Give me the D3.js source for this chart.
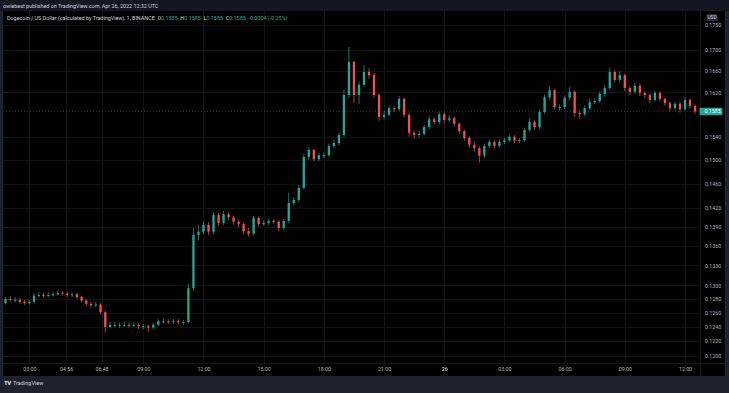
<!DOCTYPE html>
<html>
<head>
<meta charset="utf-8">
<script src="https://cdn.jsdelivr.net/npm/d3@7"></script>
<style>
  html, body { margin: 0; padding: 0; background: #1e222d; }
  svg { display: block; font-family: Roboto, "Open Sans", sans-serif; }
</style>
</head>
<body>
<svg id="chart" width="729" height="393"></svg>
<script>
// 15-minute bars, Apr 25 01:45 UTC onward
const barStart = Date.UTC(2022, 3, 25, 1, 45);
const barMinutes = 15;
const firstOpen = 0.1274;

const closes = [
  0.1280,0.1279,0.1279,0.1276,0.1274,0.1276,0.1285,0.1286,0.1285,0.1286,
  0.1287,0.1289,0.1288,0.1286,0.1287,0.1283,0.1278,0.1273,0.1271,0.1272,
  0.1261,0.1240,0.1243,0.1243,0.1243,0.1243,0.1243,0.1243,0.1241,0.1241,
  0.1239,0.1243,0.1248,0.1248,0.1247,0.1248,0.1247,0.1247,0.1296,0.1377,
  0.1382,0.1393,0.1382,0.1409,0.1396,0.1410,0.1405,0.1398,0.1394,0.1383,
  0.1379,0.1404,0.1394,0.1396,0.1399,0.1398,0.1388,0.1399,0.1428,0.1433,
  0.1453,0.1505,0.1517,0.1501,0.1508,0.1508,0.1524,0.1529,0.1543,0.1615,
  0.1677,0.1615,0.1634,0.1658,0.1652,0.1615,0.1575,0.1579,0.1591,0.1589,
  0.1608,0.1579,0.1547,0.1543,0.1545,0.1557,0.1571,0.1566,0.1580,0.1570,
  0.1573,0.1563,0.1550,0.1538,0.1526,0.1520,0.1507,0.1524,0.1531,0.1524,
  0.1531,0.1534,0.1540,0.1533,0.1534,0.1552,0.1566,0.1557,0.1584,0.1611,
  0.1624,0.1593,0.1593,0.1610,0.1621,0.1582,0.1580,0.1591,0.1602,0.1604,
  0.1617,0.1628,0.1658,0.1643,0.1652,0.1628,0.1621,0.1632,0.1619,0.1615,
  0.1606,0.1619,0.1608,0.1600,0.1591,0.1599,0.1589,0.1606,0.1595,0.1585
];

const highs = [
  0.1283,0.1284,0.1283,0.1281,0.1279,0.1279,0.1288,0.1290,0.1289,0.1290,
  0.1290,0.1293,0.1292,0.1291,0.1290,0.1289,0.1285,0.1280,0.1276,0.1276,
  0.1274,0.1263,0.1247,0.1247,0.1246,0.1247,0.1246,0.1247,0.1245,0.1244,
  0.1243,0.1246,0.1251,0.1252,0.1251,0.1251,0.1251,0.1250,0.1302,0.1388,
  0.1393,0.1399,0.1397,0.1413,0.1412,0.1415,0.1413,0.1408,0.1401,0.1397,
  0.1388,0.1407,0.1406,0.1400,0.1402,0.1402,0.1400,0.1402,0.1445,0.1438,
  0.1458,0.1510,0.1522,0.1519,0.1512,0.1513,0.1528,0.1535,0.1547,0.1625,
  0.1706,0.1680,0.1640,0.1671,0.1665,0.1656,0.1618,0.1586,0.1596,0.1595,
  0.1613,0.1611,0.1582,0.1551,0.1550,0.1561,0.1576,0.1575,0.1585,0.1583,
  0.1578,0.1576,0.1565,0.1553,0.1541,0.1530,0.1523,0.1528,0.1535,0.1534,
  0.1535,0.1538,0.1544,0.1543,0.1538,0.1556,0.1572,0.1569,0.1589,0.1616,
  0.1632,0.1627,0.1598,0.1614,0.1630,0.1624,0.1587,0.1596,0.1607,0.1609,
  0.1622,0.1633,0.1666,0.1662,0.1660,0.1655,0.1632,0.1637,0.1636,0.1622,
  0.1618,0.1623,0.1621,0.1611,0.1603,0.1603,0.1602,0.1611,0.1609,0.1598
];

const lows = [
  0.1272,0.1276,0.1275,0.1273,0.1271,0.1272,0.1274,0.1283,0.1282,0.1283,
  0.1284,0.1285,0.1285,0.1283,0.1283,0.1280,0.1275,0.1270,0.1268,0.1268,
  0.1258,0.1232,0.1238,0.1239,0.1239,0.1240,0.1239,0.1240,0.1237,0.1237,
  0.1233,0.1237,0.1241,0.1245,0.1244,0.1244,0.1244,0.1243,0.1245,0.1292,
  0.1368,0.1378,0.1377,0.1378,0.1391,0.1393,0.1400,0.1393,0.1389,0.1378,
  0.1374,0.1377,0.1390,0.1391,0.1393,0.1394,0.1383,0.1385,0.1396,0.1424,
  0.1429,0.1450,0.1500,0.1497,0.1498,0.1503,0.1505,0.1520,0.1525,0.1540,
  0.1610,0.1600,0.1598,0.1630,0.1645,0.1610,0.1568,0.1570,0.1576,0.1584,
  0.1586,0.1575,0.1540,0.1537,0.1539,0.1542,0.1553,0.1561,0.1562,0.1563,
  0.1566,0.1558,0.1545,0.1533,0.1521,0.1514,0.1495,0.1503,0.1520,0.1519,
  0.1521,0.1527,0.1530,0.1529,0.1529,0.1531,0.1549,0.1551,0.1553,0.1580,
  0.1606,0.1588,0.1586,0.1589,0.1606,0.1575,0.1572,0.1577,0.1588,0.1598,
  0.1600,0.1612,0.1624,0.1638,0.1639,0.1622,0.1615,0.1617,0.1613,0.1609,
  0.1600,0.1603,0.1603,0.1595,0.1585,0.1587,0.1583,0.1586,0.1590,0.1581
];

const priceTicks = [0.1200,0.1220,0.1240,0.1260,0.1280,0.1300,0.1330,0.1360,0.1390,
                    0.1420,0.1460,0.1500,0.1540,0.1620,0.1660,0.1700,0.1750];
const timeTicks = ["2022-04-25T03:00Z","2022-04-25T04:56Z","2022-04-25T06:48Z","2022-04-25T09:00Z",
                   "2022-04-25T12:00Z","2022-04-25T15:00Z","2022-04-25T18:00Z","2022-04-25T21:00Z",
                   "2022-04-26T00:00Z","2022-04-26T03:00Z","2022-04-26T06:00Z","2022-04-26T09:00Z",
                   "2022-04-26T12:00Z"];
const timeLabels = ["03:00","04:56","06:48","09:00","12:00","15:00","18:00","21:00",
                    "26","03:00","06:00","09:00","12:00"];
const lastPrice = 0.1585;

const up = "#26a69a", down = "#ef5350";
const bars = closes.map((c, i) => ({
  t: new Date(barStart + i * barMinutes * 60000),
  o: i === 0 ? firstOpen : closes[i - 1],
  h: highs[i], l: lows[i], c
}));

const svg = d3.select("#chart");
const plot = { left: 3, right: 700, top: 11, bottom: 363 };

// frame pieces
svg.append("rect").attr("width", 729).attr("height", 11).attr("fill", "#131722");
svg.append("rect").attr("x", 3).attr("y", 11).attr("width", 722).attr("height", 365).attr("fill", "#000");

// scales (TradingView squeezes the early hours a bit, so the time scale is piecewise)
const x = d3.scaleUtc()
  .domain([new Date("2022-04-25T03:00Z"), new Date("2022-04-25T09:00Z"), new Date("2022-04-26T12:00Z")])
  .range([29.3, 143.3, 685]);
const y = d3.scaleLog().domain([0.12, 0.17]).range([355.7, 50]);

// grid, faint like the reference
const grid = svg.append("g").attr("stroke", "#111318").attr("stroke-width", 1);
grid.selectAll(".hg").data(priceTicks).join("line")
  .attr("x1", plot.left).attr("x2", plot.right)
  .attr("y1", d => Math.round(y(d)) + 0.5).attr("y2", d => Math.round(y(d)) + 0.5);
grid.selectAll(".vg").data(timeTicks).join("line")
  .attr("x1", d => Math.round(x(new Date(d))) + 0.5).attr("x2", d => Math.round(x(new Date(d))) + 0.5)
  .attr("y1", plot.top).attr("y2", plot.bottom);

// last price line
svg.append("line")
  .attr("x1", plot.left).attr("x2", plot.right)
  .attr("y1", y(lastPrice)).attr("y2", y(lastPrice))
  .attr("stroke", up).attr("stroke-opacity", 0.35).attr("stroke-dasharray", "1,2");

// candles
const cw = 2.3;
const candle = svg.append("g").selectAll("g").data(bars).join("g")
  .attr("fill", d => d.c >= d.o ? up : down)
  .attr("stroke", d => d.c >= d.o ? up : down);
candle.append("line")
  .attr("x1", d => x(d.t)).attr("x2", d => x(d.t))
  .attr("y1", d => y(d.h)).attr("y2", d => y(d.l))
  .attr("stroke-width", 0.7);
candle.append("rect")
  .attr("stroke", "none")
  .attr("x", d => x(d.t) - cw / 2).attr("width", cw)
  .attr("y", d => y(Math.max(d.o, d.c)))
  .attr("height", d => Math.max(1, Math.abs(y(d.o) - y(d.c))));

// separators
svg.append("line").attr("x1", plot.right + 0.5).attr("x2", plot.right + 0.5)
  .attr("y1", plot.top).attr("y2", 376).attr("stroke", "#15171d");
svg.append("line").attr("x1", plot.left).attr("x2", 725)
  .attr("y1", plot.bottom + 0.5).attr("y2", plot.bottom + 0.5).attr("stroke", "#15171d");

// price axis
const yAxis = svg.append("g").attr("transform", `translate(${plot.right + 3},0)`)
  .call(d3.axisRight(y).tickValues(priceTicks).tickFormat(d3.format(".4f")).tickSize(0).tickPadding(2));
yAxis.select(".domain").remove();
yAxis.selectAll("text").attr("fill", "#b2b5be").attr("font-size", 5.3).attr("font-family", "Roboto, sans-serif");

// time axis
const xAxis = svg.append("g").attr("transform", `translate(0,${plot.bottom + 2})`)
  .call(d3.axisBottom(x).tickValues(timeTicks.map(d => new Date(d)))
    .tickFormat((d, i) => timeLabels[i]).tickSize(0).tickPadding(2));
xAxis.select(".domain").remove();
xAxis.selectAll("text").attr("fill", "#b2b5be").attr("font-size", 5.3).attr("font-family", "Roboto, sans-serif")
  .attr("font-weight", (d, i) => timeLabels[i] === "26" ? 700 : 400);

// USD badge
svg.append("rect").attr("x", 706.5).attr("y", 14).attr("width", 11).attr("height", 7).attr("rx", 1.5)
  .attr("fill", "#2a2e39");
svg.append("text").attr("x", 712).attr("y", 19.3).attr("text-anchor", "middle")
  .attr("font-size", 4.8).attr("fill", "#d1d4dc").text("USD");

// last price badge
svg.append("rect").attr("x", 699.5).attr("y", y(lastPrice) - 3.8).attr("width", 23).attr("height", 7.6)
  .attr("rx", 1).attr("fill", up);
svg.append("text").attr("x", 704.5).attr("y", y(lastPrice) + 2)
  .attr("font-size", 5.3).attr("fill", "#fff").text(lastPrice.toFixed(4));

// header and legend
svg.append("text").attr("x", 3).attr("y", 7.5).attr("font-size", 5.4).attr("fill", "#d1d4dc")
  .text("owlebest published on TradingView.com, Apr 26, 2022 12:32 UTC");

const legend = svg.append("text").attr("x", 7).attr("y", 19.5).attr("font-size", 5.4)
  .attr("fill", "#d1d4dc").attr("xml:space", "preserve");
legend.append("tspan").text("Dogecoin / US Dollar (calculated by TradingView), 1, BINANCE  ");
const last = bars[bars.length - 1];
[["O", last.c], ["H", last.c], ["L", last.c], ["C", last.c]].forEach(([k, v]) => {
  legend.append("tspan").attr("fill", "#d1d4dc").text(k);
  legend.append("tspan").attr("fill", up).text(v.toFixed(4) + "  ");
});
legend.append("tspan").attr("fill", up).text("-0.0004 (-0.25%)");

// footer
const foot = svg.append("g").attr("transform", "translate(4,383)");
foot.append("text").attr("x", 0).attr("y", 2).attr("font-size", 6).attr("font-weight", 900)
  .attr("fill", "#d1d4dc").attr("letter-spacing", -0.6).text("TV");
foot.append("text").attr("x", 9).attr("y", 2).attr("font-size", 5.5).attr("fill", "#d1d4dc").text("TradingView");
</script>
</body>
</html>
